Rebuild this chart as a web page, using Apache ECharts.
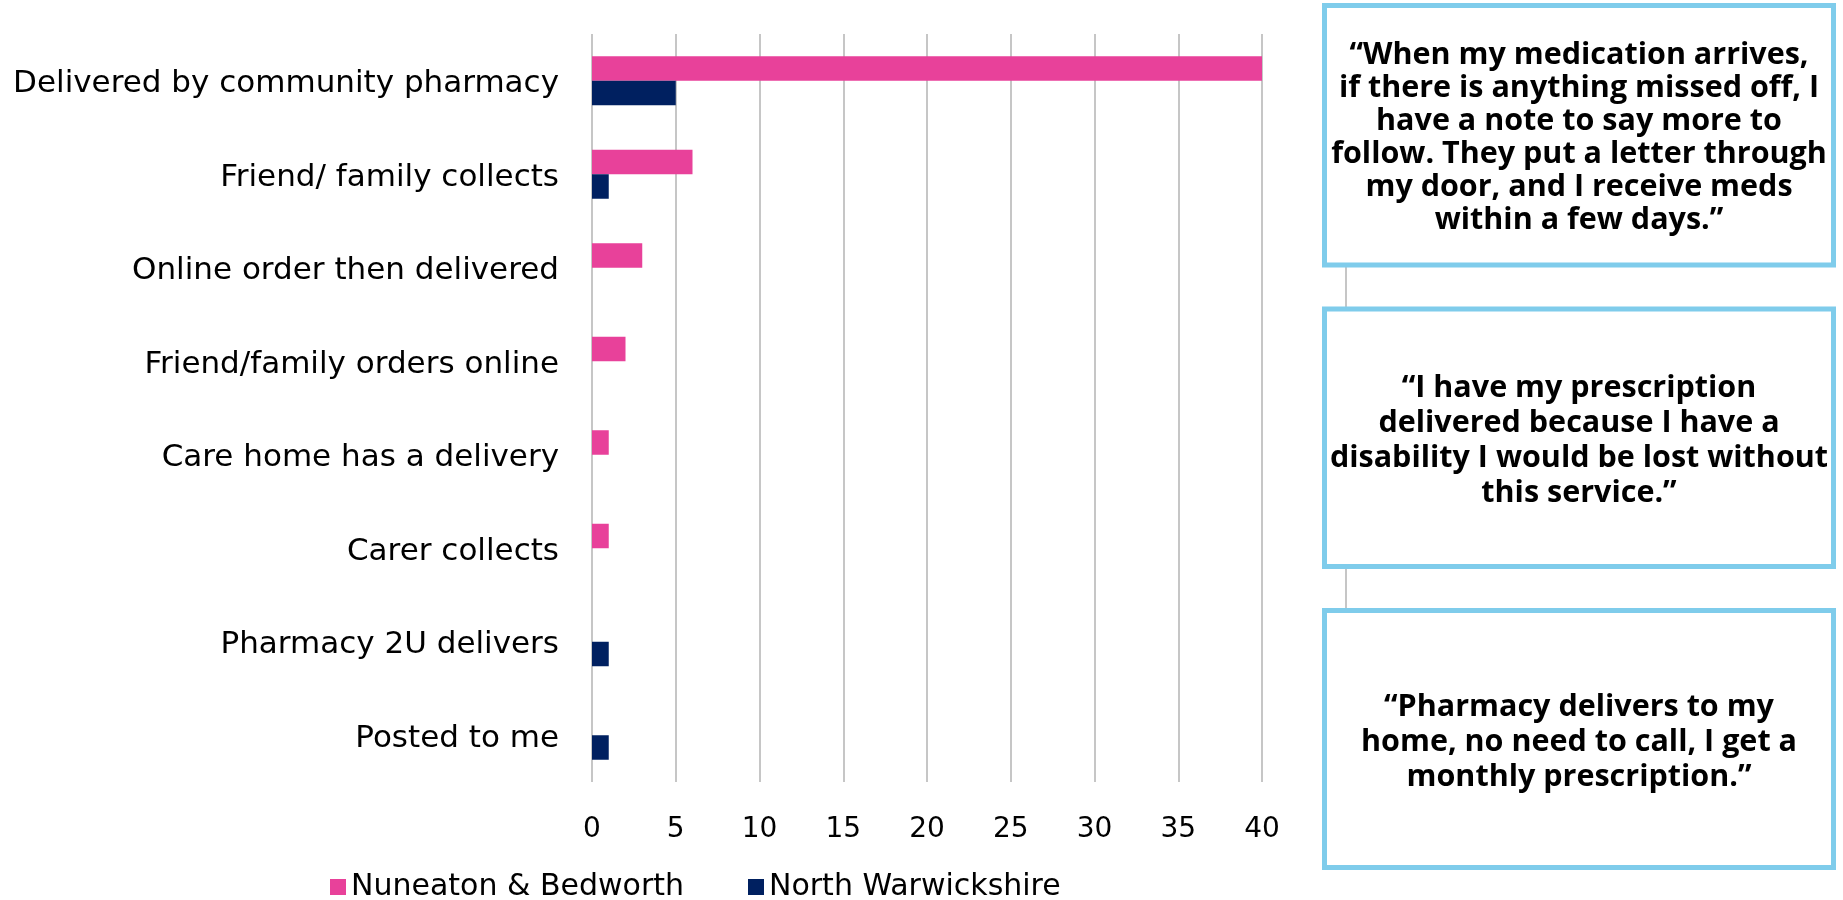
<!DOCTYPE html>
<html>
<head>
<meta charset="utf-8">
<script src="https://cdn.jsdelivr.net/npm/echarts@6/dist/echarts.min.js"></script>
<style>
  html, body { margin: 0; padding: 0; background: #ffffff; }
  #chart { width: 1843px; height: 900px; }
</style>
</head>
<body>
<div id="chart"></div>
<script>
const categories = [
  'Delivered by community pharmacy',
  'Friend/ family collects',
  'Online order then delivered',
  'Friend/family orders online',
  'Care home has a delivery',
  'Carer collects',
  'Pharmacy 2U delivers',
  'Posted to me'
];
const seriesNames = ['Nuneaton & Bedworth', 'North Warwickshire'];
const nuneatonBedworth = [40, 6, 3, 2, 1, 1, 0, 0];
const northWarwickshire = [5, 1, 0, 0, 0, 0, 1, 1];
const xMin = 0, xMax = 45, xInterval = 5;

const quote1 = ['\u201CWhen my medication arrives,', 'if there is anything missed off, I', 'have a note to say more to', 'follow. They put a letter through', 'my door, and I receive meds', 'within a few days.\u201D'];
const quote2 = ['\u201CI have my prescription', 'delivered because I have a', 'disability I would be lost without', 'this service.\u201D'];
const quote3 = ['\u201CPharmacy delivers to my', 'home, no need to call, I get a', 'monthly prescription.\u201D'];

const PINK = '#E8419A';
const NAVY = '#002060';
const BOX = '#7FCCEB';
const LABEL_FONT = 'DejaVu Sans';
const QUOTE_FONT = 'Open Sans';

const chart = echarts.init(document.getElementById('chart'), null, { renderer: 'canvas' });

function box(y, h, lines, lh) {
  const x = 1324.5, w = 509;
  return [
    { type: 'rect', z: 100, shape: { x: x, y: y, width: w, height: h },
      style: { fill: '#ffffff', stroke: BOX, lineWidth: 5 } },
    { type: 'text', z: 101, x: x + w / 2, y: y + h / 2 + 3,
      style: { text: lines.join('\n'), fontFamily: QUOTE_FONT, fontWeight: 'bold', fontSize: 30.5,
               lineHeight: lh, fill: '#000000', align: 'center', verticalAlign: 'middle' } }
  ];
}

chart.setOption({
  animation: false,
  backgroundColor: '#ffffff',
  grid: { left: 592, right: 497.25, top: 34, bottom: 118, containLabel: false },
  xAxis: {
    type: 'value', min: xMin, max: xMax, interval: xInterval,
    axisLine: { show: false }, axisTick: { show: false },
    axisLabel: { color: '#000000', fontFamily: LABEL_FONT, fontSize: 28, margin: 34 },
    splitLine: { show: true, lineStyle: { color: '#C6C6C6', width: 2 } }
  },
  yAxis: {
    type: 'category', data: categories, inverse: true,
    axisLine: { show: false }, axisTick: { show: false },
    axisLabel: {
      color: '#000000', fontFamily: LABEL_FONT, fontSize: 31, margin: 33,
      formatter: function (v) { return '{a|' + v + '}'; },
      rich: { a: { color: '#000000', fontFamily: LABEL_FONT, fontSize: 31, padding: [7, 0, 0, 0] } }
    }
  },
  legend: {
    data: seriesNames, left: 325, top: 867, itemWidth: 16, itemHeight: 16, itemGap: 64, icon: 'rect',
    textStyle: { color: '#000000', fontFamily: LABEL_FONT, fontSize: 30 }
  },
  series: [
    { name: seriesNames[0], type: 'bar', data: nuneatonBedworth, barWidth: 24.5, barGap: '0%',
      itemStyle: { color: PINK } },
    { name: seriesNames[1], type: 'bar', data: northWarwickshire, barWidth: 24.5, barGap: '0%',
      itemStyle: { color: NAVY } }
  ],
  graphic: [].concat(
    box(5.5, 259.5, quote1, 33),
    box(309, 257.5, quote2, 35),
    box(610.5, 257, quote3, 35)
  )
});
</script>
</body>
</html>
